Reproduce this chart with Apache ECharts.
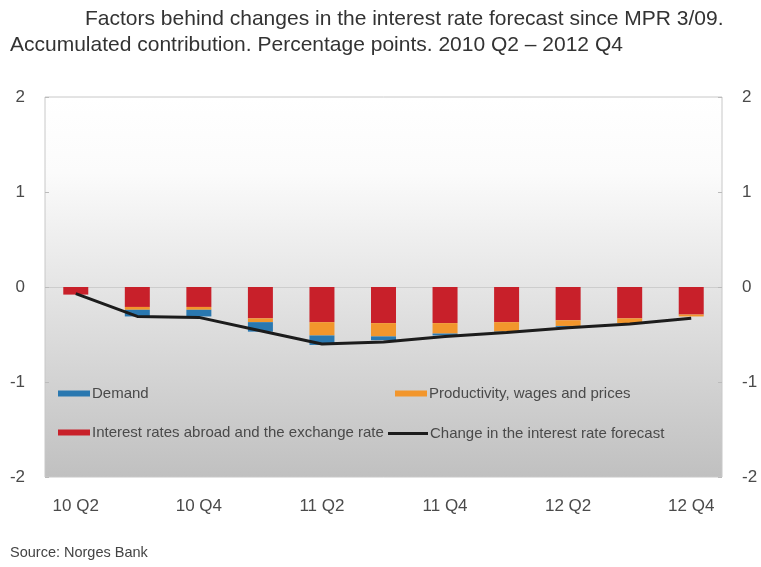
<!DOCTYPE html>
<html>
<head>
<meta charset="utf-8">
<script src="https://cdn.jsdelivr.net/npm/echarts@6/dist/echarts.min.js"></script>
<style>
    html, body { margin: 0; padding: 0; background: #fff; }
    #chart { width: 761px; height: 567px; }
</style>
</head>
<body>
<div id="chart"></div>
<script>
const quarters = ["10 Q2", "10 Q3", "10 Q4", "11 Q1", "11 Q2", "11 Q3", "11 Q4", "12 Q1", "12 Q2", "12 Q3", "12 Q4"];
const demand = [0, -0.07, -0.07, -0.10, -0.10, -0.04, -0.02, -0.01, -0.01, 0, 0];
const productivity = [0, -0.03, -0.03, -0.04, -0.14, -0.14, -0.11, -0.10, -0.06, -0.05, -0.02];
const ratesAbroad = [-0.08, -0.21, -0.21, -0.33, -0.37, -0.38, -0.38, -0.37, -0.35, -0.33, -0.29];
const forecastChange = [-0.07, -0.31, -0.32, -0.46, -0.60, -0.58, -0.52, -0.48, -0.43, -0.39, -0.33];

const colorBlue = "#2a78b0";
const colorOrange = "#f2962c";
const colorRed = "#c8202a";
const colorLine = "#1c1c1c";
const fontFamily = "'Liberation Sans', Arial, sans-serif";
const textColor = "#4a4a4a";

const chart = echarts.init(document.getElementById("chart"));

// one legend component per item so the two columns line up like the original
function legendItem(name, left, top, color, w, h) {
    return {
        left: left,
        top: top,
        itemWidth: w,
        itemHeight: h,
        itemGap: 0,
        icon: "rect",
        data: [{ name: name, icon: "rect", itemStyle: { color: color } }],
        textStyle: { color: textColor, fontSize: 15, fontFamily: fontFamily, padding: [0, 0, 0, -3] },
        selectedMode: false,
        padding: 0
    };
}

chart.setOption({
    animation: false,
    title: [
        {
            text: "Factors behind changes in the interest rate forecast since MPR 3/09.",
            left: 85,
            top: 9,
            padding: 0,
            textStyle: { color: "#333", fontSize: 21, fontWeight: "normal", fontFamily: fontFamily }
        },
        {
            text: "Accumulated contribution. Percentage points. 2010 Q2 \u2013 2012 Q4",
            left: 10,
            top: 35,
            padding: 0,
            textStyle: { color: "#333", fontSize: 21, fontWeight: "normal", fontFamily: fontFamily }
        },
        {
            text: "Source: Norges Bank",
            left: 10,
            top: 545,
            padding: 0,
            textStyle: { color: "#444", fontSize: 14.5, fontWeight: "normal", fontFamily: fontFamily }
        }
    ],
    legend: [
        legendItem("Demand", 58, 386, colorBlue, 32, 6),
        legendItem("Productivity, wages and prices", 395, 386, colorOrange, 32, 6),
        legendItem("Interest rates abroad and the exchange rate", 58, 425, colorRed, 32, 6),
        legendItem("Change in the interest rate forecast", 388, 426, colorLine, 40, 3)
    ],
    grid: {
        left: 45,
        right: 39,
        top: 97,
        bottom: 90,
        show: true,
        borderColor: "#c8c8c8",
        borderWidth: 1,
        backgroundColor: new echarts.graphic.LinearGradient(0, 0, 0, 1, [
            { offset: 0, color: "#ffffff" },
            { offset: 0.2, color: "#fbfbfb" },
            { offset: 1, color: "#c0c0c0" }
        ])
    },
    xAxis: {
        type: "category",
        data: quarters,
        axisLine: { show: false },
        axisTick: { show: false },
        axisLabel: {
            interval: 1,
            margin: 21,
            color: textColor,
            fontSize: 17,
            fontFamily: fontFamily
        }
    },
    yAxis: [
        {
            type: "value",
            min: -2,
            max: 2,
            interval: 1,
            position: "left",
            axisLine: { show: false },
            axisTick: { show: true, inside: true, length: 4, lineStyle: { color: "#bbb" } },
            axisLabel: { margin: 20, color: textColor, fontSize: 17, fontFamily: fontFamily },
            splitLine: {
                show: true,
                lineStyle: { color: ["transparent", "transparent", "#cdcdcd", "transparent", "transparent"], width: 1 }
            }
        },
        {
            type: "value",
            min: -2,
            max: 2,
            interval: 1,
            position: "right",
            axisLine: { show: false },
            axisTick: { show: true, inside: true, length: 4, lineStyle: { color: "#bbb" } },
            axisLabel: { margin: 20, color: textColor, fontSize: 17, fontFamily: fontFamily },
            splitLine: { show: false }
        }
    ],
    series: [
        {
            name: "Interest rates abroad and the exchange rate",
            type: "bar",
            stack: "factors",
            barWidth: 25,
            itemStyle: { color: colorRed },
            data: ratesAbroad
        },
        {
            name: "Productivity, wages and prices",
            type: "bar",
            stack: "factors",
            barWidth: 25,
            itemStyle: { color: colorOrange },
            data: productivity
        },
        {
            name: "Demand",
            type: "bar",
            stack: "factors",
            barWidth: 25,
            itemStyle: { color: colorBlue },
            data: demand
        },
        {
            name: "Change in the interest rate forecast",
            type: "line",
            showSymbol: false,
            symbol: "none",
            lineStyle: { color: colorLine, width: 3 },
            itemStyle: { color: colorLine },
            z: 5,
            data: forecastChange
        }
    ]
});
</script>
</body>
</html>
